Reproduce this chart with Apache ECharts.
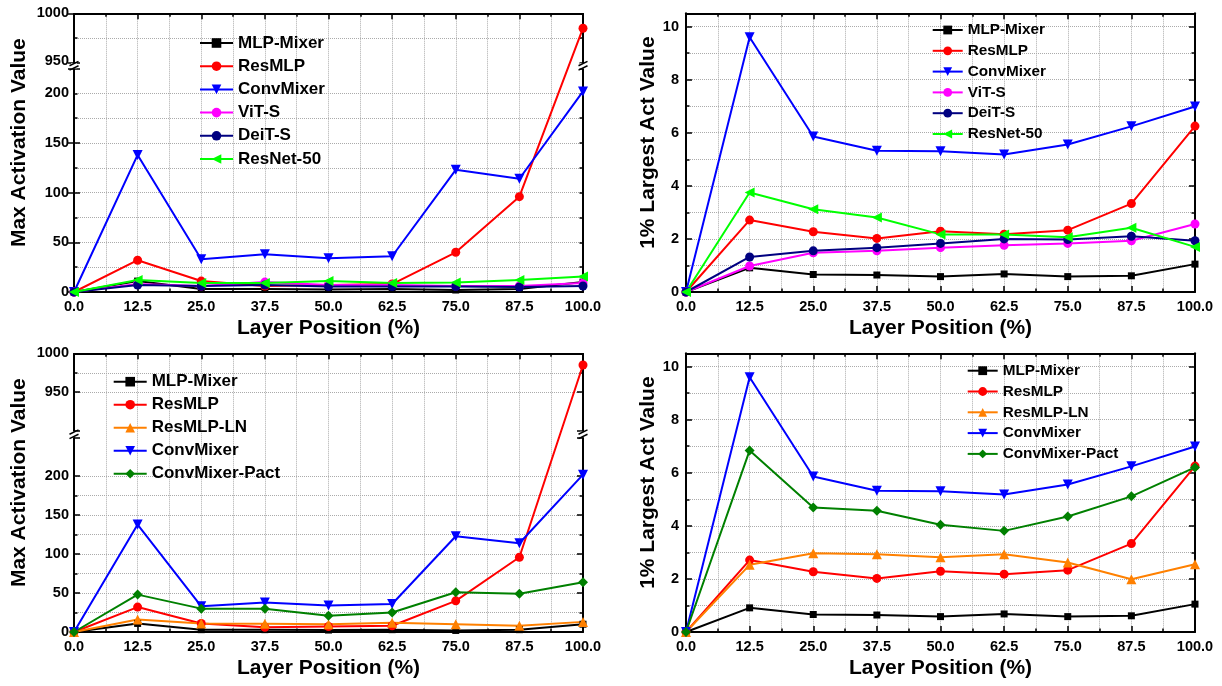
<!DOCTYPE html>
<html><head><meta charset="utf-8">
<script src="https://cdn.jsdelivr.net/npm/echarts@6/dist/echarts.min.js"></script>
<style>html,body{margin:0;padding:0;background:#fff}#c{width:1222px;height:686px}</style>
</head><body><div id="c"></div><script>
// ---- data ----
const layerPos = [0, 12.5, 25, 37.5, 50, 62.5, 75, 87.5, 100];

// Max activation value
const maxMLPMixer      = [0, 11, 3, 3, 2.5, 3, 2, 3, 10];
const maxResMLP        = [0, 32, 11, 6, 7, 8, 40, 96, 985];
const maxConvMixer     = [0, 138, 33, 38, 34, 36, 123, 114, 202];
const maxViTS          = [0, 8, 6, 10, 7, 7, 6, 6, 9];
const maxDeiTS         = [0, 7, 6, 7, 5.5, 5.5, 5.5, 5, 6];
const maxResNet50      = [0, 12, 9, 9, 11, 9, 9.5, 12, 15.5];
const maxResMLPLN      = [0, 16, 11, 10.5, 10, 12, 10, 8, 13];
const maxConvMixerPact = [0, 48, 30, 30, 21, 25, 51, 49, 64];

// 1% largest activation value
const topMLPMixer      = [0, 0.91, 0.66, 0.64, 0.58, 0.68, 0.58, 0.61, 1.05];
const topResMLP        = [0, 2.71, 2.27, 2.02, 2.29, 2.18, 2.33, 3.33, 6.25];
const topConvMixer     = [0, 9.6, 5.86, 5.32, 5.3, 5.18, 5.56, 6.24, 6.99];
const topViTS          = [0, 0.98, 1.48, 1.55, 1.67, 1.76, 1.83, 1.93, 2.56];
const topDeiTS         = [0, 1.32, 1.55, 1.67, 1.83, 2.0, 1.98, 2.1, 1.93];
const topResNet50      = [0, 3.75, 3.12, 2.81, 2.17, 2.17, 2.06, 2.42, 1.7];
const topResMLPLN      = [0, 2.53, 2.97, 2.93, 2.82, 2.93, 2.62, 1.99, 2.55];
const topConvMixerPact = [0, 6.84, 4.69, 4.57, 4.04, 3.81, 4.35, 5.11, 6.2];

const xTitle = 'Layer Position (%)';
const yTitleMax = 'Max Activation Value';
const yTitleTop = '1% Largest Act Value';

// ---- styles ----
const FONT = '"Liberation Sans", Arial, Helvetica, sans-serif';
const models = {
  'MLP-Mixer':      { color: '#000000', symbol: 'rect', size: 7, rotate: 0 },
  'ResMLP':         { color: '#ff0000', symbol: 'circle', size: 9, rotate: 0 },
  'ResMLP-LN':      { color: '#ff8000', symbol: 'triangle', size: 10, rotate: 0 },
  'ConvMixer':      { color: '#0000ff', symbol: 'triangle', size: 10, rotate: 180 },
  'ConvMixer-Pact': { color: '#008000', symbol: 'diamond', size: 10, rotate: 0 },
  'ViT-S':          { color: '#ff00ff', symbol: 'circle', size: 9, rotate: 0 },
  'DeiT-S':         { color: '#000080', symbol: 'circle', size: 9, rotate: 0 },
  'ResNet-50':      { color: '#00ff00', symbol: 'triangle', size: 10, rotate: 90 }
};

const grids = [
  { left: 74, top: 13.3, width: 509, height: 278.7 },
  { left: 686, top: 13.3, width: 509, height: 278.7 },
  { left: 74, top: 353.3, width: 509, height: 278.7 },
  { left: 686, top: 353.3, width: 509, height: 278.7 }
];

const gridLine = { show: true, lineStyle: { color: '#ababab', type: 'dotted', width: 1 } };
const noLine = { show: false };
const frameLine = { show: true, onZero: false, lineStyle: { color: '#000', width: 2 } };
const tick = { show: true, inside: true, length: 6, lineStyle: { color: '#000', width: 1.5 } };
const shortTick = { show: true, inside: true, length: 3.5, lineStyle: { color: '#000', width: 1.5 } };
const minorTick = { show: true, splitNumber: 2, length: 3.5, lineStyle: { color: '#000', width: 1.5 } };
const labelStyle = { fontFamily: FONT, fontWeight: 'bold', fontSize: 14.5, color: '#000' };
const titleStyle = { fontFamily: FONT, fontWeight: 'bold', fontSize: 21, color: '#000' };

const xAxes = [], yAxes = [];
const xIndex = [], yIndex = [];
function addX(gi) {
  const base = { type: 'value', gridIndex: gi, min: 0, max: 100, interval: 12.5,
    axisLine: frameLine, axisTick: tick, minorTick: minorTick };
  xIndex[gi] = xAxes.length;
  xAxes.push(Object.assign({}, base, {
    position: 'bottom', splitLine: gridLine, minorSplitLine: gridLine,
    axisLabel: Object.assign({ margin: 7, formatter: v => v.toFixed(1) }, labelStyle),
    name: xTitle, nameLocation: 'middle', nameGap: 26, nameTextStyle: titleStyle
  }));
  xAxes.push(Object.assign({}, base, {
    position: 'top', splitLine: noLine, minorSplitLine: noLine, axisLabel: noLine
  }));
}
// Axis with labels, grid lines and (optionally) ticks; extra tick-only axes if needed.
function addY(gi, cfg) {
  const base = Object.assign({ type: 'value', gridIndex: gi }, cfg.scale);
  yIndex[gi] = yAxes.length;
  yAxes.push(Object.assign({}, base, {
    position: 'left', axisLine: frameLine, splitLine: gridLine,
    minorSplitLine: cfg.minorGrid ? gridLine : noLine,
    axisTick: cfg.mainTick, minorTick: cfg.minorGrid ? minorTick : noLine,
    axisLabel: Object.assign({ margin: cfg.margin, formatter: cfg.fmt, showMaxLabel: cfg.showMax }, labelStyle),
    name: cfg.name, nameLocation: 'middle', nameGap: cfg.nameGap,
    nameTextStyle: Object.assign({ padding: [0, 0, 0, 20] }, titleStyle)
  }));
  yAxes.push(Object.assign({}, base, {
    position: 'right', axisLine: frameLine, splitLine: noLine, minorSplitLine: noLine,
    axisTick: cfg.mainTick, minorTick: cfg.minorGrid ? minorTick : noLine, axisLabel: noLine
  }));
  if (cfg.longTickScale) {
    ['left', 'right'].forEach(pos => yAxes.push(Object.assign({ type: 'value', gridIndex: gi }, cfg.longTickScale, {
      position: pos, axisLine: noLine, splitLine: noLine, minorSplitLine: noLine,
      axisTick: tick, minorTick: noLine, axisLabel: noLine
    })));
  }
}
const breakArea = { show: false, itemStyle: { opacity: 0 }, zigzagAmplitude: 0, expandOnClick: false };
const maxFmt = v => ((v <= 200 || v >= 950) && v % 50 === 0) ? String(v) : '';
const topFmt = v => (v % 2 === 0) ? String(v) : '';
const breakA = [{ start: 225, end: 950, gap: '2%' }];
const breakC = [{ start: 250, end: 900, gap: '2.2%' }];

for (let g = 0; g < 4; g++) addX(g);
addY(0, { name: yTitleMax, nameGap: 44, margin: 5, fmt: maxFmt, showMax: true, mainTick: shortTick, minorGrid: false,
  scale: { min: 0, max: 1000, interval: 25, breaks: breakA, breakArea: breakArea },
  longTickScale: { min: 0, max: 1000, interval: 50, breaks: breakA, breakArea: breakArea } });
addY(1, { name: yTitleTop, nameGap: 27, margin: 7, fmt: topFmt, showMax: false, mainTick: tick, minorGrid: true,
  scale: { min: 0, max: 10.5, interval: 2 } });
addY(2, { name: yTitleMax, nameGap: 44, margin: 5, fmt: maxFmt, showMax: true, mainTick: tick, minorGrid: true,
  scale: { min: 0, max: 1000, interval: 50, breaks: breakC, breakArea: breakArea } });
addY(3, { name: yTitleTop, nameGap: 27, margin: 7, fmt: topFmt, showMax: false, mainTick: tick, minorGrid: true,
  scale: { min: 0, max: 10.5, interval: 2 } });

const series = [];
function addSeries(gi, name, values) {
  const m = models[name];
  series.push({
    type: 'line', name: name, xAxisIndex: xIndex[gi], yAxisIndex: yIndex[gi],
    data: layerPos.map((x, i) => [x, values[i]]),
    symbol: m.symbol, symbolSize: m.size, symbolRotate: m.rotate, showAllSymbol: true,
    lineStyle: { color: m.color, width: 2 }, itemStyle: { color: m.color },
    emphasis: { disabled: true }, animation: false
  });
}
const panelA = [['MLP-Mixer', maxMLPMixer], ['ResMLP', maxResMLP], ['ConvMixer', maxConvMixer],
  ['ViT-S', maxViTS], ['DeiT-S', maxDeiTS], ['ResNet-50', maxResNet50]];
const panelB = [['MLP-Mixer', topMLPMixer], ['ResMLP', topResMLP], ['ConvMixer', topConvMixer],
  ['ViT-S', topViTS], ['DeiT-S', topDeiTS], ['ResNet-50', topResNet50]];
const panelC = [['MLP-Mixer', maxMLPMixer], ['ResMLP', maxResMLP], ['ResMLP-LN', maxResMLPLN],
  ['ConvMixer', maxConvMixer], ['ConvMixer-Pact', maxConvMixerPact]];
const panelD = [['MLP-Mixer', topMLPMixer], ['ResMLP', topResMLP], ['ResMLP-LN', topResMLPLN],
  ['ConvMixer', topConvMixer], ['ConvMixer-Pact', topConvMixerPact]];
[panelA, panelB, panelC, panelD].forEach((p, gi) => p.forEach(([n, v]) => addSeries(gi, n, v)));

function legend(names, left, top, fontSize, lineH, gap, itemW, itemH) {
  return { orient: 'vertical', left: left, top: top, padding: 0, itemWidth: itemW, itemHeight: itemH,
    itemGap: gap, selectedMode: false, data: names, z: 20,
    textStyle: { fontFamily: FONT, fontWeight: 'bold', fontSize: fontSize, color: '#000', lineHeight: lineH } };
}
const legends = [
  legend(panelA.map(p => p[0]), 199, 33, 17, 20, 3.2, 33, 12),
  legend(panelB.map(p => p[0]), 931.7, 21, 15.3, 18, 2.8, 30, 11),
  legend(panelC.map(p => p[0]), 112.7, 371.7, 17, 20, 3, 33, 12),
  legend(panelD.map(p => p[0]), 966.7, 361.7, 15.3, 18, 2.8, 30, 11)
];

const chart = echarts.init(document.getElementById('c'), null, { renderer: 'canvas' });
chart.setOption({
  animation: false, backgroundColor: '#fff',
  grid: grids, xAxis: xAxes, yAxis: yAxes, legend: legends, series: series
});

// break marks "//" on both sides of the broken axes
function breakMarks(yIdx, lo, hi, gi) {
  const out = [];
  const yLo = chart.convertToPixel({ yAxisIndex: yIdx }, lo);
  const yHi = chart.convertToPixel({ yAxisIndex: yIdx }, hi);
  if (!isFinite(yLo) || !isFinite(yHi)) return out;
  const mid = (yLo + yHi) / 2;
  const g = grids[gi];
  [g.left, g.left + g.width].forEach(x => {
    out.push({ type: 'rect', z: 100, shape: { x: x - 3, y: mid - 2.5, width: 6, height: 5 }, style: { fill: '#fff' } });
    [-2.2, 2.2].forEach(d => out.push({ type: 'line', z: 101,
      shape: { x1: x - 4.5, y1: mid + d + 2.2, x2: x + 4.5, y2: mid + d - 2.2 },
      style: { stroke: '#000', lineWidth: 1.5 } }));
  });
  return out;
}
chart.setOption({ graphic: breakMarks(yIndex[0], breakA[0].start, breakA[0].end, 0)
  .concat(breakMarks(yIndex[2], breakC[0].start, breakC[0].end, 2)) });
</script></body></html>
